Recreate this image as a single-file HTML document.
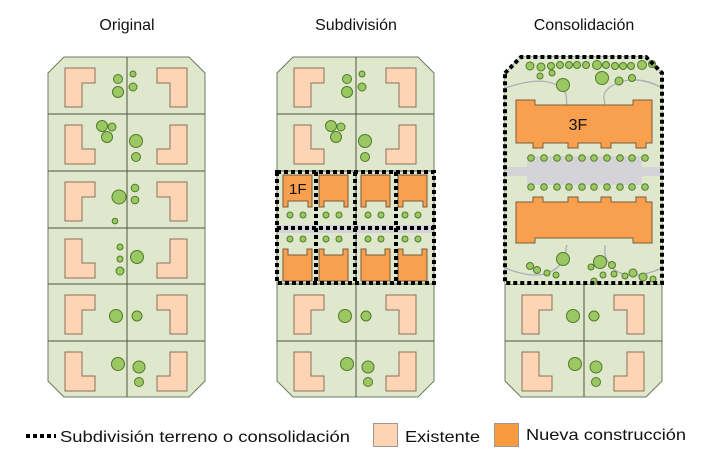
<!DOCTYPE html>
<html><head><meta charset="utf-8"><style>
html,body{margin:0;padding:0;background:#fff;width:720px;height:460px;overflow:hidden}
svg{display:block}
text{font-family:"Liberation Sans",sans-serif;fill:#111}
</style></head><body>
<svg width="720" height="460" viewBox="0 0 720 460" xmlns="http://www.w3.org/2000/svg">
<defs>
<path id="GL" d="M0,0H30V15H17V39H0Z" fill="#fdd4b4" stroke="#8b6f5c" stroke-width="1"/>
<path id="GR" d="M0,0H30V39H13V15H0Z" fill="#fdd4b4" stroke="#8b6f5c" stroke-width="1"/>
<path id="LL" d="M0,0H17V24H30V39H0Z" fill="#fdd4b4" stroke="#8b6f5c" stroke-width="1"/>
<path id="LR" d="M13,0H30V39H0V24H13Z" fill="#fdd4b4" stroke="#8b6f5c" stroke-width="1"/>
<path id="OT" d="M0,0H29V32H25V26H5V32H0Z" fill="#f9a04e" stroke="#7a5a3a" stroke-width="1"/>
<path id="OB" d="M0,0H5V6H24V0H29V32H0Z" fill="#f9a04e" stroke="#7a5a3a" stroke-width="1"/>
<g id="blk">
<path d="M16,57H141L157,73V381L141,397H16L0,381V73Z" fill="#dfe8cc" stroke="#6d7a5c" stroke-width="1"/>
<path d="M79,57V397M0,114H157M0,171H157M0,228H157M0,284H157M0,341H157" stroke="#4c5640" stroke-width="1"/>
</g>
<g id="r1"><use href="#GL" x="17" y="11"/><use href="#GR" x="109" y="11"/></g>
<g id="r2"><use href="#LL" x="17" y="11"/><use href="#LR" x="109" y="11"/></g>
</defs>
<g fill="#9cc863" stroke="#4f7a2a" stroke-width="1">
<text x="127" y="30" font-size="16" text-anchor="middle" stroke="none">Original</text>
<text x="356" y="30" font-size="16" text-anchor="middle" stroke="none">Subdivisión</text>
<text x="584" y="30" font-size="16" text-anchor="middle" stroke="none">Consolidación</text>

<!-- Block 1 -->
<g transform="translate(48,0)">
<use href="#blk"/>
<use href="#r1" y="57"/><use href="#r2" y="114"/><use href="#r1" y="171"/><use href="#r2" y="228"/><use href="#r1" y="284"/><use href="#r2" y="341"/>
<circle cx="70" cy="79" r="4.5"/><circle cx="70" cy="92" r="5.5"/><circle cx="85" cy="74" r="3"/><circle cx="85" cy="87" r="4"/>
<circle cx="54" cy="126" r="5.5"/><circle cx="64" cy="127" r="4"/><circle cx="59" cy="137" r="5.5"/><circle cx="88" cy="141" r="6.5"/><circle cx="88" cy="157" r="4.5"/>
<circle cx="71" cy="197" r="7"/><circle cx="87" cy="188" r="3.8"/><circle cx="87" cy="200" r="3.8"/><circle cx="67" cy="221" r="2.8"/>
<circle cx="72" cy="247" r="3"/><circle cx="72" cy="259" r="3"/><circle cx="72" cy="271" r="4"/><circle cx="89" cy="257" r="6.5"/>
<circle cx="68" cy="316" r="6.5"/><circle cx="89" cy="316" r="5"/>
<circle cx="70" cy="364" r="6.5"/><circle cx="91" cy="367" r="6"/><circle cx="91" cy="382" r="4.5"/>
</g>

<!-- Block 2 -->
<g transform="translate(277,0)">
<use href="#blk"/>
<use href="#r1" y="57"/><use href="#r2" y="114"/><use href="#r1" y="284"/><use href="#r2" y="341"/>
<circle cx="70" cy="79" r="4.5"/><circle cx="70" cy="92" r="5.5"/><circle cx="85" cy="74" r="3"/><circle cx="85" cy="87" r="4"/>
<circle cx="54" cy="126" r="5.5"/><circle cx="64" cy="127" r="4"/><circle cx="59" cy="137" r="5.5"/><circle cx="88" cy="141" r="6.5"/><circle cx="88" cy="157" r="4.5"/>
<circle cx="68" cy="316" r="6.5"/><circle cx="89" cy="316" r="5"/>
<circle cx="70" cy="364" r="6.5"/><circle cx="91" cy="367" r="6"/><circle cx="91" cy="382" r="4.5"/>
<rect x="0.5" y="225" width="156" height="8" fill="#d3d3d8" stroke="none"/>
<use href="#OT" x="6" y="175"/><use href="#OT" x="42" y="175"/><use href="#OT" x="84" y="175"/><use href="#OT" x="121" y="175"/>
<use href="#OB" x="6" y="249"/><use href="#OB" x="42" y="249"/><use href="#OB" x="84" y="249"/><use href="#OB" x="121" y="249"/>
<text x="12" y="194" font-size="15" stroke="none" fill="#222">1F</text>
<g><circle cx="13" cy="215" r="3"/><circle cx="26" cy="215" r="3"/><circle cx="49" cy="215" r="3"/><circle cx="62" cy="215" r="3"/><circle cx="91" cy="215" r="3"/><circle cx="104" cy="215" r="3"/><circle cx="128" cy="215" r="3"/><circle cx="141" cy="215" r="3"/>
<circle cx="13" cy="239" r="3"/><circle cx="26" cy="239" r="3"/><circle cx="49" cy="239" r="3"/><circle cx="62" cy="239" r="3"/><circle cx="91" cy="239" r="3"/><circle cx="104" cy="239" r="3"/><circle cx="128" cy="239" r="3"/><circle cx="141" cy="239" r="3"/></g>
<g fill="none" stroke="#000" stroke-width="4" stroke-dasharray="4,3">
<rect x="0" y="172" width="157" height="111"/>
<path d="M39,172V283M78,172V283M119,172V283M0,228H157"/>
</g>
</g>

<!-- Block 3 -->
<g transform="translate(505,0)">
<use href="#blk"/>
<path d="M0,73L16,57H141L157,73V284H0Z" fill="#dfe8cc" stroke="none"/>
<use href="#r1" y="284"/><use href="#r2" y="341"/>
<circle cx="68" cy="316" r="6.5"/><circle cx="89" cy="316" r="5"/>
<circle cx="70" cy="364" r="6.5"/><circle cx="91" cy="367" r="6"/><circle cx="91" cy="382" r="4.5"/>
<g fill="none" stroke="#a9afb8" stroke-width="1.3">
<path d="M0,88C30,78 45,80 55,87C65,95 60,100 62,105"/>
<path d="M157,88C135,75 115,80 105,87C95,95 100,100 100,105"/>
<path d="M0,268C30,280 45,275 55,265C62,255 60,250 62,245"/>
<path d="M157,268C135,278 115,278 105,265C98,255 100,250 100,245"/>
</g>
<rect x="0" y="167" width="157" height="9" fill="#d3d3d8" stroke="none"/>
<rect x="22" y="156" width="115" height="29" fill="#d3d3d8" stroke="none"/>
<path d="M11,100H30V105H128V100H147V143H141V148H131V143H106V148H96V143H73V148H63V143H38V148H28V143H11Z" fill="#f9a04e" stroke="#7a5a3a"/>
<path d="M11,202H28V197H38V202H63V197H73V202H96V197H106V202H131V197H141V202H147V243H128V238H30V243H11Z" fill="#f9a04e" stroke="#7a5a3a"/>
<text x="73" y="130" font-size="16" text-anchor="middle" stroke="none" fill="#222">3F</text>
<g>
<circle cx="26" cy="158" r="3.3"/><circle cx="39" cy="158" r="3.3"/><circle cx="52" cy="158" r="3.3"/><circle cx="64" cy="158" r="3.3"/><circle cx="77" cy="158" r="3.3"/><circle cx="89" cy="158" r="3.3"/><circle cx="102" cy="158" r="3.3"/><circle cx="115" cy="158" r="3.3"/><circle cx="127" cy="158" r="3.3"/><circle cx="140" cy="158" r="3.3"/>
<circle cx="26" cy="187" r="3.3"/><circle cx="39" cy="187" r="3.3"/><circle cx="52" cy="187" r="3.3"/><circle cx="64" cy="187" r="3.3"/><circle cx="77" cy="187" r="3.3"/><circle cx="89" cy="187" r="3.3"/><circle cx="102" cy="187" r="3.3"/><circle cx="115" cy="187" r="3.3"/><circle cx="127" cy="187" r="3.3"/><circle cx="140" cy="187" r="3.3"/>
</g>
<g>
<circle cx="25" cy="66" r="4"/><circle cx="36" cy="67" r="4"/><circle cx="46" cy="66" r="3.5"/><circle cx="55" cy="65" r="3.5"/><circle cx="64" cy="65" r="3.5"/><circle cx="72" cy="65" r="3.5"/><circle cx="81" cy="65" r="3.5"/><circle cx="92" cy="65" r="4.5"/><circle cx="101" cy="65" r="3.5"/><circle cx="110" cy="66" r="3.5"/><circle cx="118" cy="66" r="3.5"/><circle cx="126" cy="66" r="3.5"/><circle cx="137" cy="65" r="4.5"/><circle cx="147" cy="64" r="3.5"/>
<circle cx="35" cy="76" r="3"/><circle cx="47" cy="73" r="3"/><circle cx="58" cy="85" r="6.5"/><circle cx="97" cy="78" r="6.5"/><circle cx="114" cy="81" r="4"/><circle cx="127" cy="78" r="3.5"/>
<circle cx="58" cy="259" r="6.5"/><circle cx="25" cy="266" r="3.5"/><circle cx="32" cy="270" r="3.5"/><circle cx="42" cy="273" r="3"/><circle cx="51" cy="275" r="3"/><circle cx="95" cy="262" r="6.5"/><circle cx="86" cy="267" r="3"/><circle cx="107" cy="265" r="3.5"/><circle cx="109" cy="274" r="3"/><circle cx="120" cy="276" r="3"/><circle cx="128" cy="273" r="4"/><circle cx="98" cy="275" r="3"/><circle cx="138" cy="277" r="4"/><circle cx="148" cy="279" r="3"/><circle cx="89" cy="281" r="3"/>
</g>
<path d="M0,73L16,57H141L157,73V283H0Z" fill="none" stroke="#000" stroke-width="4" stroke-dasharray="4,3"/>
</g>

<!-- Legend -->
<path d="M26,436H56" stroke="#000" stroke-width="4" stroke-dasharray="4,3" fill="none"/>
<text x="60" y="442" font-size="16" stroke="none" textLength="290" lengthAdjust="spacingAndGlyphs">Subdivisión terreno o consolidación</text>
<rect x="373.5" y="423.5" width="24" height="23" fill="#fdd4b4" stroke="#999"/>
<text x="405" y="442" font-size="16" stroke="none" textLength="75" lengthAdjust="spacingAndGlyphs">Existente</text>
<rect x="494.5" y="423.5" width="24" height="23" fill="#f99a3e" stroke="#999"/>
<text x="526" y="440" font-size="16" stroke="none" textLength="160" lengthAdjust="spacingAndGlyphs">Nueva construcción</text>
</g>
</svg>
</body></html>
